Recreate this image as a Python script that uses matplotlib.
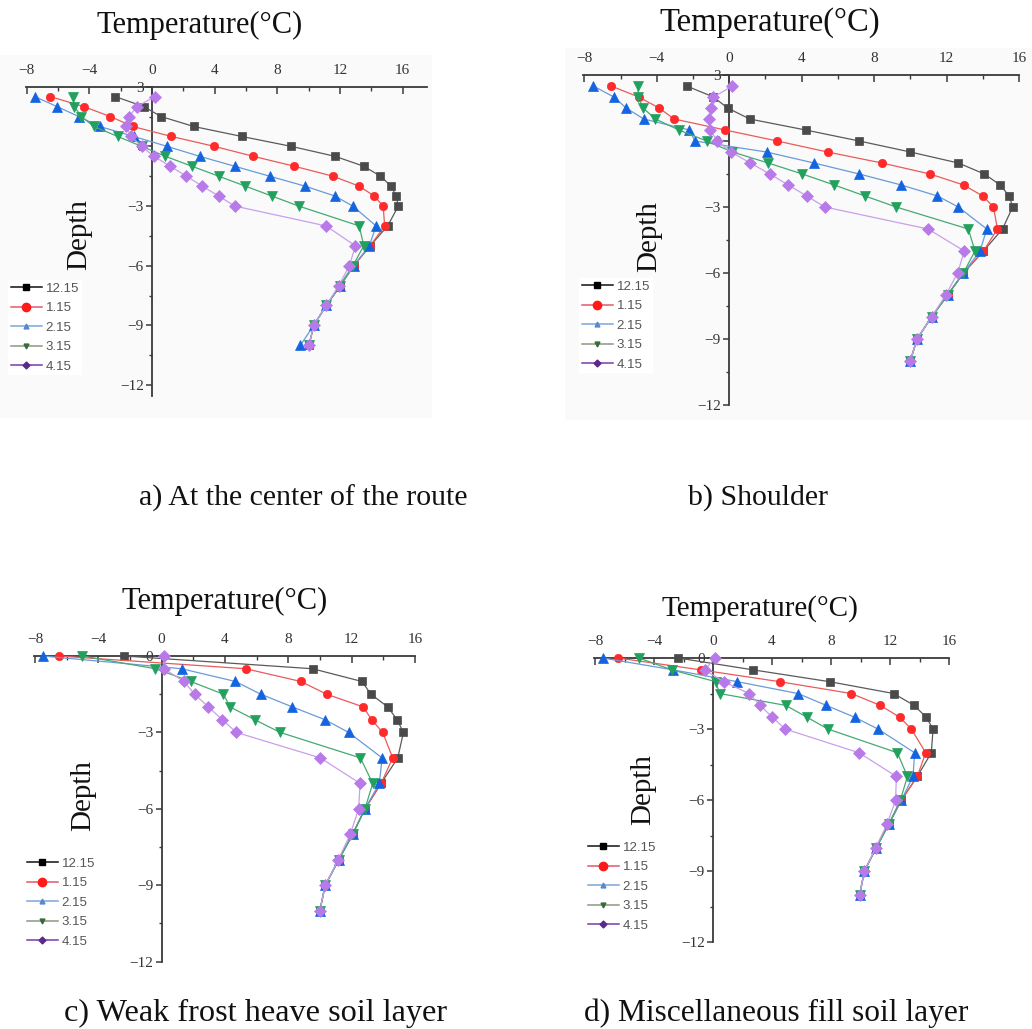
import matplotlib
matplotlib.use("Agg")
import matplotlib.pyplot as plt
from matplotlib.lines import Line2D
from matplotlib.patches import Rectangle

# ---------------- data ----------------
series_labels = ["12.15", "1.15", "2.15", "3.15", "4.15"]

depth_ab = [2.5, 2, 1.5, 1, 0.5, 0, -0.5, -1, -1.5, -2, -2.5, -3, -4, -5, -6, -7, -8, -9, -10]
depth_cd = [0, -0.5, -1, -1.5, -2, -2.5, -3, -4, -5, -6, -7, -8, -9, -10]

# a) At the center of the route
a_1215 = [-2.34, -0.53, 0.58, 2.66, 5.72, 8.89, 11.68, 13.52, 14.58, 15.26, 15.58, 15.72, 15.04, 13.92, 12.87, 12.02, 11.12, 10.32, 10.02]
a_0115 = [-6.48, -4.36, -2.66, -1.23, 1.23, 3.98, 6.47, 9.09, 11.55, 13.22, 14.19, 14.75, 14.85, 13.92, 12.87, 12.02, 11.12, 10.32, 10.02]
a_0215 = [-7.48, -6.06, -4.68, -3.34, -1.17, 0.96, 3.04, 5.28, 7.51, 9.77, 11.68, 12.81, 14.30, 13.87, 12.87, 12.02, 11.12, 10.32, 9.47]
a_0315 = [-5.04, -4.96, -4.51, -3.72, -2.19, -0.66, 0.85, 2.55, 4.26, 5.96, 7.66, 9.36, 13.23, 13.51, 12.82, 11.98, 11.12, 10.32, 10.02]
a_0415 = [0.17, -0.96, -1.47, -1.64, -1.34, -0.66, 0.11, 1.17, 2.19, 3.21, 4.26, 5.28, 11.11, 12.98, 12.60, 11.92, 11.12, 10.32, 10.02]

# b) Shoulder
b_1215 = [-2.35, -0.87, -0.09, 1.13, 4.22, 7.18, 10.00, 12.65, 14.09, 14.96, 15.46, 15.65, 15.09, 14.04, 12.93, 12.06, 11.17, 10.37, 10.00]
b_0115 = [-6.52, -5.00, -3.87, -3.04, -0.22, 2.65, 5.43, 8.43, 11.09, 12.94, 14.00, 14.59, 14.81, 14.04, 12.93, 12.06, 11.17, 10.37, 10.00]
b_0215 = [-7.50, -6.37, -5.69, -4.72, -2.20, -1.89, 2.06, 4.68, 7.18, 9.50, 11.50, 12.65, 14.22, 13.85, 12.93, 12.06, 11.17, 10.37, 10.00]
b_0315 = [-5.04, -5.02, -4.76, -4.07, -2.78, -1.24, 0.18, 2.15, 4.04, 5.80, 7.50, 9.22, 13.20, 13.57, 12.93, 12.06, 11.17, 10.37, 10.00]
b_0415 = [0.18, -0.87, -1.02, -1.11, -1.07, -0.65, 0.09, 1.17, 2.24, 3.26, 4.28, 5.28, 10.98, 12.98, 12.61, 11.96, 11.17, 10.37, 10.00]

# c) Weak frost heave soil layer
c_1215 = [-2.35, 9.53, 12.65, 13.22, 14.28, 14.87, 15.27, 14.91, 13.86, 12.84, 12.06, 11.18, 10.33, 9.99]
c_0115 = [-6.50, 5.31, 8.79, 10.42, 12.74, 13.26, 13.96, 14.59, 13.86, 12.84, 12.06, 11.18, 10.33, 9.99]
c_0215 = [-7.50, 1.26, 4.66, 6.26, 8.26, 10.31, 11.81, 13.92, 13.75, 12.84, 12.06, 11.18, 10.33, 9.99]
c_0315 = [-5.00, -0.39, 1.83, 3.90, 4.32, 5.88, 7.48, 12.55, 13.33, 12.84, 12.06, 11.18, 10.33, 9.99]
c_0415 = [0.14, 0.14, 1.41, 2.08, 2.95, 3.83, 4.72, 10.02, 12.53, 12.44, 11.91, 11.15, 10.33, 9.99]

# d) Miscellaneous fill soil layer
d_1215 = [-2.37, 2.71, 7.91, 12.25, 13.63, 14.46, 14.92, 14.80, 13.85, 12.77, 11.93, 11.07, 10.26, 9.94]
d_0115 = [-6.44, -0.84, 4.52, 9.38, 11.34, 12.66, 13.45, 14.42, 13.85, 12.77, 11.93, 11.07, 10.26, 9.94]
d_0215 = [-7.46, -2.71, 1.65, 5.76, 7.68, 9.60, 11.19, 13.67, 13.56, 12.77, 11.93, 11.07, 10.26, 9.94]
d_0315 = [-5.02, -2.80, 0.18, 0.45, 4.93, 6.37, 7.80, 12.50, 13.18, 12.70, 11.93, 11.07, 10.26, 9.94]
d_0415 = [0.14, -0.56, 0.72, 2.44, 3.21, 4.02, 4.90, 9.90, 12.43, 12.38, 11.81, 11.03, 10.26, 9.94]

x_major = [-8, -4, 0, 4, 8, 12, 16]
y_major_ab = [3, 0, -3, -6, -9, -12]
y_major_cd = [0, -3, -6, -9, -12]

title_text = "Temperature(\u00b0C)"
ylabel_text = "Depth"
captions = ["a) At the center of the route", "b) Shoulder",
            "c) Weak frost heave soil layer", "d) Miscellaneous fill soil layer"]

# ---------------- styles ----------------
W, H = 1032, 1029
SERIF = "Liberation Serif"
SANS = "Liberation Sans"
AX_COL = "#3a3a3a"
line_cols = ["#5a5a5a", "#ea5a5a", "#6a9ad8", "#45aa72", "#c8a0ea"]
mark_cols = ["#4a4a4a", "#ff2a2a", "#1464e0", "#22a05e", "#b87ae8"]
markers = ["s", "o", "^", "v", "D"]
msizes = [5.5, 6.0, 7.5, 7.5, 6.0]
leg_line_cols = ["#111111", "#e05a6a", "#7aa6da", "#8a9a80", "#7a3aa8"]
leg_mark_cols = ["#000000", "#ff1a1a", "#5a88d0", "#3a6a3a", "#5a2a8a"]
leg_msizes = [5, 6, 3.5, 3.5, 3.5]

fig = plt.figure(figsize=(W / 100, H / 100), dpi=100)
fig.patch.set_facecolor("white")

# faint scan backgrounds
for (x0, y0, x1, y1) in [(0, 55, 432, 418), (565, 48, 1032, 420)]:
    fig.patches.append(Rectangle((x0 / W, 1 - y1 / H), (x1 - x0) / W, (y1 - y0) / H,
                                 transform=fig.transFigure, facecolor="#fafafa",
                                 edgecolor="none", zorder=-10))


def make_axes(box, xlim, ylim, yticks):
    l, t, r, b = box
    ax = fig.add_axes([l / W, 1 - b / H, (r - l) / W, (b - t) / H])
    ax.set_xlim(*xlim)
    ax.set_ylim(*ylim)
    ax.patch.set_alpha(0)
    ax.spines["right"].set_visible(False)
    ax.spines["bottom"].set_visible(False)
    ax.spines["left"].set_position(("data", 0))
    for s in ("top", "left"):
        ax.spines[s].set_color(AX_COL)
        ax.spines[s].set_linewidth(1.3)
    ax.xaxis.set_ticks_position("top")
    ax.set_xticks(x_major)
    ax.set_xticks([-6, -2, 2, 6, 10, 14], minor=True)
    ax.set_yticks(yticks)
    ax.set_yticks([v - 1.5 for v in yticks[:-1]], minor=True)
    ax.tick_params(axis="x", which="major", direction="in", length=5, width=1.1,
                   pad=7, labelsize=11, color=AX_COL, labelcolor="#333333")
    ax.tick_params(axis="x", which="minor", direction="in", length=3, width=1.0, color=AX_COL)
    ax.tick_params(axis="y", which="major", direction="out", length=4, width=1.1,
                   pad=2, labelsize=11, color=AX_COL, labelcolor="#333333")
    ax.tick_params(axis="y", which="minor", direction="out", length=2.5, width=1.0, color=AX_COL)
    for lab in ax.get_xticklabels() + ax.get_yticklabels():
        lab.set_fontfamily(SERIF)
    return ax


def plot_panel(ax, depth, series):
    for i, vals in enumerate(series):
        ax.plot(vals, depth, color=line_cols[i], lw=0.9, marker=markers[i],
                ms=msizes[i], mfc=mark_cols[i], mec=mark_cols[i], mew=0.5,
                clip_on=False, zorder=3 + i)


def add_legend(ax, x_px, y_top_px):
    handles = [Line2D([0], [0], color=leg_line_cols[i], lw=1.1, marker=markers[i],
                      ms=leg_msizes[i], mfc=leg_mark_cols[i], mec=leg_mark_cols[i])
               for i in range(5)]
    leg = ax.legend(handles, series_labels, loc="upper left",
                    bbox_to_anchor=(x_px / W, 1 - y_top_px / H),
                    bbox_transform=fig.transFigure, frameon=True, fancybox=False,
                    facecolor="white", edgecolor="none", framealpha=1,
                    borderpad=0.2, borderaxespad=0, handlelength=2.4,
                    handletextpad=0.25, labelspacing=0.55,
                    prop={"family": SANS, "size": 9.5})
    for t in leg.get_texts():
        t.set_color("#555555")
    return leg


panels = [
    dict(box=(25.9, 86.7, 427, 396), xlim=(-8.05, 17.55), ylim=(-12.55, 3), yt=y_major_ab,
         depth=depth_ab, series=[a_1215, a_0115, a_0215, a_0315, a_0415],
         title=(200, 25, 22), depthpos=(79, 235), cap=(303, 498, 21.5), leg=(8, 280)),
    dict(box=(583.4, 75, 1019, 405), xlim=(-8.05, 16.0), ylim=(-12, 3), yt=y_major_ab,
         depth=depth_ab, series=[b_1215, b_0115, b_0215, b_0315, b_0415],
         title=(770, 23, 23.5), depthpos=(649, 237), cap=(758, 498, 21.5), leg=(579, 278)),
    dict(box=(34.2, 656, 415, 961.7), xlim=(-8.05, 16.0), ylim=(-12, 0), yt=y_major_cd,
         depth=depth_cd, series=[c_1215, c_0115, c_0215, c_0315, c_0415],
         title=(225, 601, 22), depthpos=(83, 796), cap=(256, 1013, 23.2), leg=(24, 855)),
    dict(box=(594.3, 658, 949, 942.3), xlim=(-8.05, 16.0), ylim=(-12, 0), yt=y_major_cd,
         depth=depth_cd, series=[d_1215, d_0115, d_0215, d_0315, d_0415],
         title=(760, 609, 21), depthpos=(643, 790), cap=(776, 1013, 22.6), leg=(585, 839)),
]

for k, p in enumerate(panels):
    ax = make_axes(p["box"], p["xlim"], p["ylim"], p["yt"])
    plot_panel(ax, p["depth"], p["series"])
    add_legend(ax, *p["leg"])
    tx, ty, ts = p["title"]
    fig.text(tx / W, 1 - ty / H, title_text, ha="center", va="center",
             fontfamily=SERIF, fontsize=ts, color="#111111")
    dx, dy = p["depthpos"]
    fig.text(dx / W, 1 - dy / H, ylabel_text, ha="center", va="center", rotation=90,
             fontfamily=SERIF, fontsize=21, color="#111111")
    cx, cy, cs = p["cap"]
    fig.text(cx / W, 1 - cy / H, captions[k], ha="center", va="center",
             fontfamily=SERIF, fontsize=cs, color="#111111")

fig.savefig("out.png", dpi=100, facecolor="white")
